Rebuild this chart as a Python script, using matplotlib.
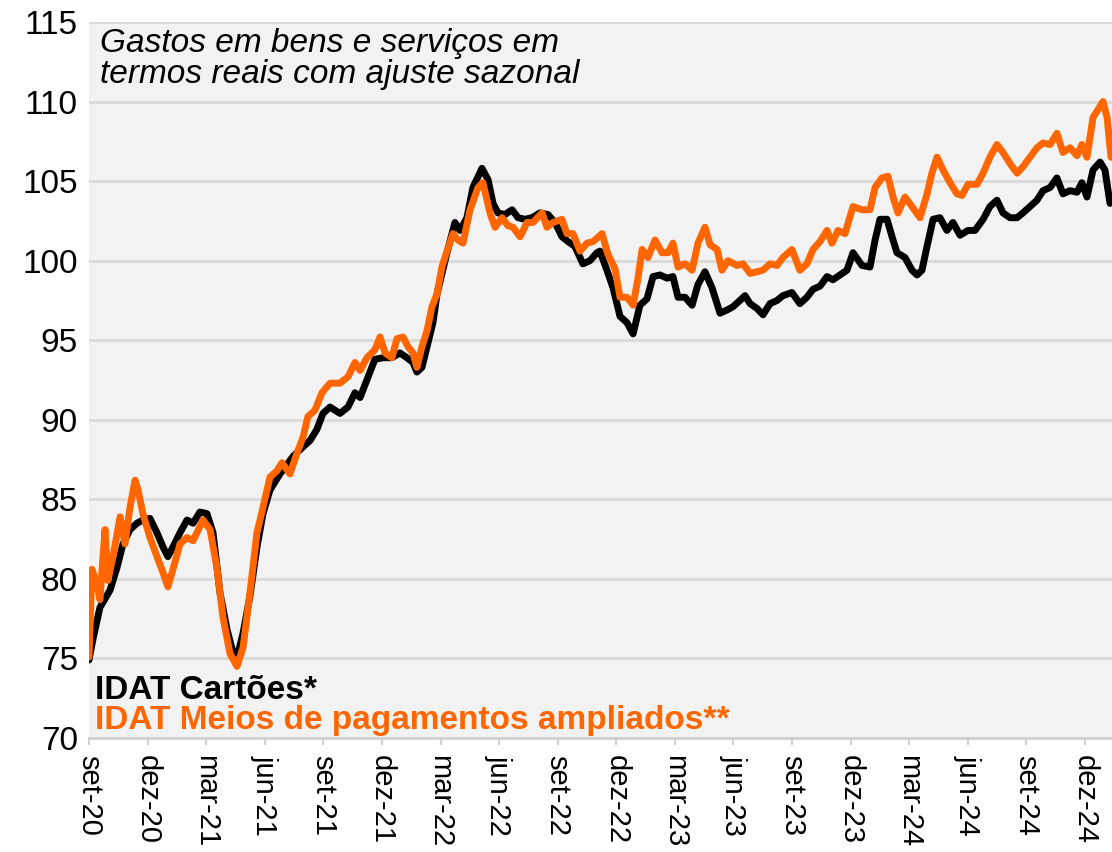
import matplotlib
matplotlib.use("Agg")
import matplotlib.pyplot as plt
import numpy as np

# months since set-20 (time coordinate) and index values
cartoes_m = [0.00, 0.20, 0.56, 1.08, 1.43, 1.74, 2.10, 2.46, 2.76, 3.12, 3.48, 3.79, 4.04, 4.30,
             4.66, 5.02, 5.33, 5.68, 6.04, 6.35, 6.71, 7.07, 7.37, 7.63, 7.89, 8.24, 8.60, 8.91,
             9.27, 9.78, 10.45, 10.96, 11.32, 11.67, 11.98, 12.34, 12.85, 13.26, 13.62, 13.88,
             14.23, 14.64, 15.05, 15.51, 15.92, 16.28, 16.59, 16.79, 17.05, 17.31, 17.61, 17.82,
             18.33, 18.74, 19.00, 19.35, 19.66, 20.12, 20.43, 20.69, 20.94, 21.30, 21.66, 21.97,
             22.32, 22.68, 23.09, 23.50, 23.86, 24.22, 24.53, 24.88, 25.29, 25.65, 26.01, 26.16,
             26.52, 26.83, 27.19, 27.55, 27.86, 28.21, 28.57, 28.88, 29.24, 29.60, 29.90, 30.16,
             30.52, 30.88, 31.18, 31.54, 31.90, 32.31, 32.67, 32.97, 33.33, 33.59, 33.85, 34.20,
             34.51, 34.87, 35.23, 35.53, 35.99, 36.40, 36.76, 37.07, 37.43, 37.79, 38.09, 38.45,
             38.81, 39.12, 39.58, 39.99, 40.25, 40.50, 40.86, 41.12, 41.37, 41.78, 42.14, 42.40,
             42.65, 42.91, 43.22, 43.57, 43.93, 44.24, 44.60, 45.01, 45.37, 45.78, 46.13, 46.49,
             46.80, 47.16, 47.52, 47.82, 48.18, 48.54, 48.85, 49.21, 49.56, 49.87, 50.23, 50.59,
             50.84, 51.10, 51.41, 51.77, 52.02, 52.28]
cartoes_v = [74.9, 76.2, 78.2, 79.3, 80.7, 82.2, 83.1, 83.5, 83.7, 83.8, 82.9, 82.0, 81.4, 82.0,
             82.9, 83.7, 83.5, 84.2, 84.1, 82.9, 79.1, 76.8, 75.4, 75.3, 76.6, 78.9, 82.0, 84.1,
             85.6, 86.6, 87.7, 88.3, 88.7, 89.4, 90.4, 90.8, 90.4, 90.8, 91.7, 91.4,
             92.5, 93.8, 93.9, 93.9, 94.2, 93.9, 93.6, 93.0, 93.3, 94.6, 96.1, 97.9,
             100.5, 102.4, 101.9, 102.7, 104.6, 105.8, 105.1, 103.6, 103.0, 102.9, 103.2, 102.7,
             102.6, 102.7, 103.0, 102.9, 102.4, 101.5, 101.2, 100.9, 99.8, 100.0, 100.5, 100.6,
             99.4, 98.3, 96.5, 96.1, 95.4, 97.2, 97.6, 99.0, 99.1, 98.9, 99.0, 97.7,
             97.7, 97.2, 98.5, 99.3, 98.3, 96.7, 96.9, 97.1, 97.5, 97.8, 97.3, 97.0,
             96.6, 97.3, 97.5, 97.8, 98.0, 97.3, 97.7, 98.2, 98.4, 99.0, 98.8, 99.1,
             99.4, 100.5, 99.7, 99.6, 101.3, 102.6, 102.6, 101.5, 100.5, 100.2, 99.4, 99.1,
             99.4, 100.9, 102.6, 102.7, 101.9, 102.4, 101.6, 101.9, 101.9, 102.6, 103.4, 103.8,
             103.0, 102.7, 102.7, 103.0, 103.4, 103.8, 104.4, 104.6, 105.2, 104.2, 104.4, 104.3,
             104.9, 104.0, 105.7, 106.2, 105.7, 103.6]

ampliados_m = [0.00, 0.15, 0.41, 0.56, 0.82, 0.97, 1.23, 1.59, 1.84, 2.10, 2.36, 2.51, 2.76, 3.12,
               3.48, 3.79, 4.04, 4.30, 4.66, 5.02, 5.33, 5.84, 6.20, 6.55, 6.86, 7.22, 7.58, 7.89,
               8.24, 8.60, 8.91, 9.27, 9.63, 9.88, 10.29, 10.65, 10.96, 11.21, 11.57, 11.93, 12.34,
               12.85, 13.26, 13.62, 13.88, 14.23, 14.64, 14.90, 15.16, 15.51, 15.77, 16.08, 16.33,
               16.59, 16.79, 17.05, 17.31, 17.56, 17.82, 18.07, 18.33, 18.64, 18.89, 19.15, 19.51,
               19.92, 20.17, 20.53, 20.79, 21.15, 21.45, 21.71, 22.07, 22.43, 22.73, 23.20, 23.45,
               23.76, 24.22, 24.47, 24.78, 25.14, 25.50, 25.81, 26.27, 26.57, 26.93, 27.19, 27.55,
               27.86, 28.11, 28.32, 28.62, 28.98, 29.34, 29.65, 29.90, 30.16, 30.52, 30.88, 31.18,
               31.54, 31.80, 32.16, 32.41, 32.72, 33.18, 33.49, 33.85, 34.20, 34.51, 34.87, 35.23,
               35.53, 35.99, 36.40, 36.76, 37.07, 37.43, 37.79, 38.04, 38.35, 38.71, 39.12, 39.58,
               39.99, 40.25, 40.60, 40.91, 41.17, 41.42, 41.78, 42.14, 42.55, 42.91, 43.16, 43.42,
               43.73, 44.09, 44.44, 44.70, 45.01, 45.47, 45.78, 46.13, 46.49, 46.80, 47.16, 47.52,
               47.82, 48.18, 48.54, 48.85, 49.21, 49.56, 49.87, 50.23, 50.59, 50.84, 51.10, 51.41,
               51.67, 51.92, 52.13, 52.33]
ampliados_v = [75.1, 80.6, 79.7, 78.7, 83.1, 79.9, 81.4, 83.9, 82.2, 84.5, 86.2, 85.6, 84.1, 82.6,
               81.4, 80.4, 79.5, 80.6, 82.2, 82.6, 82.4, 83.7, 83.1, 80.7, 77.6, 75.3, 74.5, 75.7,
               79.1, 82.9, 84.5, 86.4, 86.8, 87.3, 86.6, 87.9, 88.9, 90.2, 90.6, 91.7, 92.3,
               92.3, 92.7, 93.6, 93.1, 93.9, 94.4, 95.2, 94.2, 93.9, 95.1, 95.2, 94.6,
               94.2, 93.3, 94.6, 95.6, 97.1, 97.9, 99.6, 100.6, 101.7, 101.3, 101.1, 103.2,
               104.6, 104.9, 103.0, 102.1, 102.7, 102.2, 102.1, 101.5, 102.4, 102.4, 103.0, 102.1,
               102.4, 102.6, 101.7, 101.7, 100.6, 101.1, 101.2, 101.7, 100.4, 99.5, 97.7, 97.7,
               97.2, 98.9, 100.7, 100.2, 101.3, 100.5, 100.5, 101.1, 99.6, 99.8, 99.4, 101.1,
               102.1, 101.0, 100.7, 99.4, 100.0, 99.7, 99.8, 99.2, 99.3, 99.4, 99.8, 99.7,
               100.2, 100.7, 99.4, 99.8, 100.7, 101.2, 101.9, 101.1, 101.9, 101.7, 103.4, 103.2,
               103.2, 104.6, 105.2, 105.3, 104.0, 103.0, 104.0, 103.4, 102.7, 104.2, 105.5, 106.5,
               105.7, 104.9, 104.2, 104.1, 104.8, 104.8, 105.5, 106.5, 107.3, 106.8, 106.1, 105.5,
               105.9, 106.5, 107.1, 107.4, 107.3, 108.0, 106.8, 107.1, 106.6, 107.3, 106.5, 109.0,
               109.5, 110.0, 109.0, 106.5]

tick_labels = ["set-20", "dez-20", "mar-21", "jun-21", "set-21", "dez-21", "mar-22", "jun-22",
               "set-22", "dez-22", "mar-23", "jun-23", "set-23", "dez-23", "mar-24", "jun-24",
               "set-24", "dez-24"]
tick_months = [3 * i for i in range(len(tick_labels))]
y_ticks = [70, 75, 80, 85, 90, 95, 100, 105, 110, 115]

title_text = "Gastos em bens e serviços em\ntermos reais com ajuste sazonal"
label_cartoes = "IDAT Cartões*"
label_ampliados = "IDAT Meios de pagamentos ampliados**"

plt.rcParams['font.family'] = ['Liberation Sans', 'DejaVu Sans']

fig = plt.figure(figsize=(11.12, 8.52), dpi=100)
ax = fig.add_axes([89 / 1112, 1 - 738 / 852, 1 - 89 / 1112, (738 - 22) / 852])
ax.set_facecolor('#f2f2f2')

ax.plot(cartoes_m, cartoes_v, color='black', lw=5, solid_joinstyle='round',
        solid_capstyle='round', zorder=3)
ax.plot(ampliados_m, ampliados_v, color='#ff6600', lw=5, solid_joinstyle='round',
        solid_capstyle='round', zorder=4)

ax.set_ylim(70, 115)
ax.set_xlim(0, (1112 - 89) / 19.53)
ax.set_yticks(y_ticks)
ax.set_xticks(tick_months)
ax.set_xticklabels(tick_labels, rotation=-90, fontsize=21)
ax.tick_params(axis='y', length=0, labelsize=24, pad=8)
ax.tick_params(axis='x', length=5, width=1.5, color='#d0d0d0', pad=7)
ax.grid(axis='y', color='#d9d9d9', lw=2, zorder=1)
ax.set_axisbelow(True)
for s in ['top', 'right', 'left']:
    ax.spines[s].set_visible(False)
ax.spines['bottom'].set_color('#d0d0d0')
ax.spines['bottom'].set_linewidth(2)

ax.text(0.0108, 0.992, title_text, transform=ax.transAxes, ha='left', va='top',
        fontsize=24, style='italic', linespacing=1.0, zorder=5)
ax.text(0.006, 0.055, label_cartoes, transform=ax.transAxes, ha='left', va='baseline',
        fontsize=24, fontweight='bold', color='black', zorder=5)
ax.text(0.006, 0.012, label_ampliados, transform=ax.transAxes, ha='left', va='baseline',
        fontsize=24, fontweight='bold', color='#ff6600', zorder=5)

fig.savefig('out.png', dpi=100)
